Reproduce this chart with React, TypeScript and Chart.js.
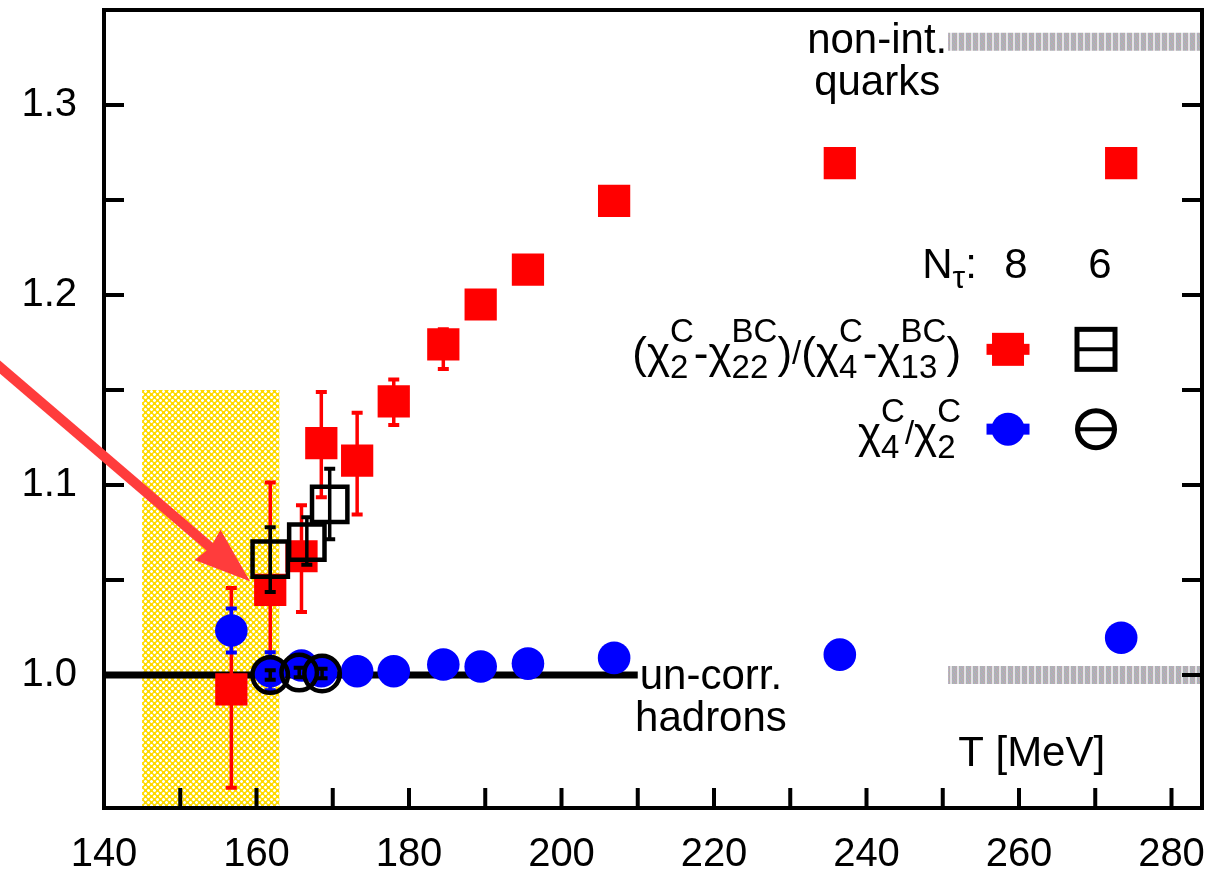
import { useEffect, useRef } from "react";
import { Chart, registerables } from "chart.js";

Chart.register(...registerables);

// Temperatures (MeV) of the N_tau = 8 ensembles
const T_NT8 = [156.7, 161.8, 165.9, 168.5, 173.2, 178.0, 184.5, 189.4, 195.6, 206.9, 236.5, 273.4];
// (chi2C - chi22BC)/(chi4C - chi13BC), N_tau = 8
const RATIO_NT8 = [0.9924, 1.0448, 1.0625, 1.122, 1.1128, 1.144, 1.174, 1.195, 1.2134, 1.2495, 1.2694, 1.2694];
const RATIO_NT8_LO = [0.9406, 0.9914, 1.0332, 1.0935, 1.0845, 1.1316, 1.161, 1.191, 1.2114, 1.2475, 1.2679, 1.2679];
const RATIO_NT8_HI = [1.0458, 1.1013, 1.0893, 1.149, 1.138, 1.1555, 1.182, 1.199, 1.2154, 1.2515, 1.2709, 1.2709];
// chi4C / chi2C, N_tau = 8
const C42_NT8 = [1.0234, 1.002, 1.005, 1.002, 1.002, 1.002, 1.0055, 1.0045, 1.006, 1.009, 1.0107, 1.0196];
const C42_NT8_LO = [1.0118, 0.992, 1.003, 1.0005, 1.0005, 1.0005, 1.004, 1.003, 1.0045, 1.0075, 1.009, 1.0175];
const C42_NT8_HI = [1.035, 1.012, 1.007, 1.0035, 1.0035, 1.0035, 1.007, 1.006, 1.0075, 1.0105, 1.0124, 1.0217];

// N_tau = 6 ensembles
const T_RATIO_NT6 = [161.8, 166.6, 169.6];
const RATIO_NT6 = [1.061, 1.0699, 1.0898];
const RATIO_NT6_LO = [1.0437, 1.058, 1.0715];
const RATIO_NT6_HI = [1.0778, 1.083, 1.1086];
const T_C42_NT6 = [161.8, 165.6, 168.6];
const C42_NT6 = [1.0, 1.0013, 1.0008];
const C42_NT6_LO = [0.9975, 0.9988, 0.9983];
const C42_NT6_HI = [1.0025, 1.0038, 1.0033];

// Reference levels: uncorrelated hadrons and non-interacting quarks
const HRG_T = [140, 210];
const HRG_LEVEL = [1.0, 1.0];
const FREE_T = [250.7, 284];
const FREE_RATIO = [4 / 3, 4 / 3];
const FREE_C42 = [1.0, 1.0];

// Crossover temperature band
const TC_BAND = [145, 163];
const TC_BAND_TOP = 1.15;

// Axis ticks
const X_LABELS = [140, 160, 180, 200, 220, 240, 260, 280];
const X_MARKS = [150, 160, 170, 180, 190, 200, 210, 220, 230, 240, 250, 260, 270, 280];
const Y_LABELS = [1.0, 1.1, 1.2, 1.3];
const Y_MARKS = [1.0, 1.05, 1.1, 1.15, 1.2, 1.25, 1.3];

// Pointer arrow (data coordinates)
const ARROW_FROM = { x: 125, y: 1.1667 };
const ARROW_TO = { x: 159.15, y: 1.0493 };

const FONT = "'Liberation Sans', Arial, Helvetica, sans-serif";

const pts = (xs: number[], ys: number[]) => xs.map((x, i) => ({ x, y: ys[i] }));

function makeYellowPattern(ctx: CanvasRenderingContext2D) {
  const c = document.createElement("canvas");
  c.width = 6;
  c.height = 6;
  const g = c.getContext("2d")!;
  g.fillStyle = "#ffd800";
  g.fillRect(0, 0, 6, 6);
  g.fillStyle = "#fff070";
  g.fillRect(0, 0, 3, 3);
  g.fillRect(3, 3, 3, 3);
  g.fillStyle = "#ffffff";
  g.fillRect(1, 0, 1, 3);
  g.fillRect(0, 1, 3, 1);
  g.fillRect(4, 3, 1, 3);
  g.fillRect(3, 4, 3, 1);
  return ctx.createPattern(c, "repeat")!;
}

function makeGrayPattern(ctx: CanvasRenderingContext2D) {
  const c = document.createElement("canvas");
  c.width = 7;
  c.height = 4;
  const g = c.getContext("2d")!;
  g.fillStyle = "#e4e2e6";
  g.fillRect(0, 0, 7, 4);
  const shades = ["#b9a7bd", "#a7bba9", "#a9aec9", "#c2a9ad", "#adb2ad"];
  for (let x = 0; x < 5; x++) {
    for (let y = 0; y < 4; y++) {
      g.fillStyle = shades[(x + 2 * y) % shades.length];
      g.fillRect(x, y, 1, 1);
    }
  }
  return ctx.createPattern(c, "repeat")!;
}

type Seg = { t: string; small?: boolean; dy?: number } | { sub: string; sup: string };

function drawRich(
  ctx: CanvasRenderingContext2D,
  segs: Seg[],
  xRight: number,
  baseline: number,
  main: number,
  small: number
) {
  const mainFont = `${main}px ${FONT}`;
  const smallFont = `${small}px ${FONT}`;
  const widthOf = (s: Seg) => {
    if ("sub" in s) {
      ctx.font = smallFont;
      return Math.max(ctx.measureText(s.sub).width, ctx.measureText(s.sup).width);
    }
    ctx.font = s.small ? smallFont : mainFont;
    return ctx.measureText(s.t).width;
  };
  const total = segs.reduce((a, s) => a + widthOf(s), 0);
  let x = xRight - total;
  ctx.textAlign = "left";
  ctx.textBaseline = "alphabetic";
  for (const s of segs) {
    const w = widthOf(s);
    if ("sub" in s) {
      ctx.font = smallFont;
      ctx.fillText(s.sub, x, baseline + 10);
      ctx.fillText(s.sup, x, baseline - 26);
    } else {
      ctx.font = s.small ? smallFont : mainFont;
      ctx.fillText(s.t, x, baseline + (s.dy ?? 0));
    }
    x += w;
  }
}

const LEGEND_RATIO: Seg[] = [
  { t: "(χ" },
  { sub: "2", sup: "C" },
  { t: "-χ" },
  { sub: "22", sup: "BC" },
  { t: ")" },
  { t: "/", small: true, dy: -4 },
  { t: "(χ" },
  { sub: "4", sup: "C" },
  { t: "-χ" },
  { sub: "13", sup: "BC" },
  { t: ")" },
];
const LEGEND_C42: Seg[] = [
  { t: "χ" },
  { sub: "4", sup: "C" },
  { t: "/", small: true, dy: -4 },
  { t: "χ" },
  { sub: "2", sup: "C" },
];

const decor = {
  id: "decor",
  beforeDatasetsDraw(chart: any) {
    const { ctx, chartArea, scales } = chart;
    const xs = scales.x;
    const ys = scales.y;
    const x0 = xs.getPixelForValue(TC_BAND[0]);
    const x1 = xs.getPixelForValue(TC_BAND[1]);
    const y0 = ys.getPixelForValue(TC_BAND_TOP);
    ctx.save();
    ctx.fillStyle = chart.$yellow;
    ctx.fillRect(x0, y0, x1 - x0, chartArea.bottom - y0);
    ctx.restore();
  },
  beforeDatasetDraw(chart: any, args: any) {
    const ds = chart.data.datasets[args.index];
    if (!ds.errLo) return;
    const { ctx, scales } = chart;
    const xs = scales.x;
    const ys = scales.y;
    ctx.save();
    ctx.strokeStyle = ds.errColor;
    ctx.lineCap = "butt";
    ds.data.forEach((p: any, i: number) => {
      const x = xs.getPixelForValue(p.x);
      const yl = ys.getPixelForValue(ds.errLo[i]);
      const yh = ys.getPixelForValue(ds.errHi[i]);
      ctx.lineWidth = 3.5;
      ctx.beginPath();
      ctx.moveTo(x, yl);
      ctx.lineTo(x, yh);
      ctx.stroke();
      ctx.lineWidth = 4;
      ctx.beginPath();
      ctx.moveTo(x - 5.5, yl);
      ctx.lineTo(x + 5.5, yl);
      ctx.moveTo(x - 5.5, yh);
      ctx.lineTo(x + 5.5, yh);
      ctx.stroke();
    });
    ctx.restore();
  },
  afterDatasetsDraw(chart: any) {
    const { ctx, chartArea: a, scales } = chart;
    const xs = scales.x;
    const ys = scales.y;
    const px = (v: number) => xs.getPixelForValue(v);
    const py = (v: number) => ys.getPixelForValue(v);
    ctx.save();

    // frame and inward ticks
    ctx.strokeStyle = "#000";
    ctx.lineWidth = 4;
    ctx.strokeRect(a.left, a.top, a.right - a.left, a.bottom - a.top);
    ctx.beginPath();
    for (const v of X_MARKS) {
      const x = px(v);
      ctx.moveTo(x, a.bottom);
      ctx.lineTo(x, a.bottom - 20);
    }
    for (const v of Y_MARKS) {
      const y = py(v);
      ctx.moveTo(a.left, y);
      ctx.lineTo(a.left + 20, y);
      ctx.moveTo(a.right, y);
      ctx.lineTo(a.right - 20, y);
    }
    ctx.stroke();

    // arrow
    const ax0 = px(ARROW_FROM.x);
    const ay0 = py(ARROW_FROM.y);
    const ax1 = px(ARROW_TO.x);
    const ay1 = py(ARROW_TO.y);
    const len = Math.hypot(ax1 - ax0, ay1 - ay0);
    const ux = (ax1 - ax0) / len;
    const uy = (ay1 - ay0) / len;
    const head = 56;
    const half = 20;
    const bx = ax1 - ux * head;
    const by = ay1 - uy * head;
    ctx.strokeStyle = "#ff3c3c";
    ctx.fillStyle = "#ff3c3c";
    ctx.lineWidth = 10;
    ctx.beginPath();
    ctx.moveTo(ax0, ay0);
    ctx.lineTo(bx + ux * 6, by + uy * 6);
    ctx.stroke();
    ctx.beginPath();
    ctx.moveTo(ax1, ay1);
    ctx.lineTo(bx - uy * half, by + ux * half);
    ctx.lineTo(bx + ux * 4, by + uy * 4);
    ctx.lineTo(bx + uy * half, by - ux * half);
    ctx.closePath();
    ctx.fill();

    // annotations
    ctx.fillStyle = "#000";
    ctx.font = `42px ${FONT}`;
    ctx.textBaseline = "alphabetic";
    ctx.textAlign = "center";
    ctx.fillText("non-int.", px(241.4), py(1.3273));
    ctx.fillText("quarks", px(241.4), py(1.3055));
    ctx.fillText("un-corr.", px(219.6), py(0.9924));
    ctx.fillText("hadrons", px(219.6), py(0.9703));
    ctx.textAlign = "right";
    ctx.fillText("T [MeV]", px(271.3), py(0.952));

    // legend header
    const hb = py(1.2092);
    ctx.textAlign = "left";
    let hx = px(247.3);
    ctx.fillText("N", hx, hb);
    hx += ctx.measureText("N").width;
    ctx.font = `32px ${FONT}`;
    ctx.fillText("τ", hx, hb + 10);
    hx += ctx.measureText("τ").width;
    ctx.font = `42px ${FONT}`;
    ctx.fillText(":", hx, hb);
    ctx.textAlign = "center";
    ctx.fillText("8", px(259.6), hb);
    ctx.fillText("6", px(270.6), hb);

    // legend labels
    drawRich(ctx, LEGEND_RATIO, px(252.4), py(1.1614), 44, 33);
    drawRich(ctx, LEGEND_C42, px(252.4), py(1.1194), 44, 33);

    // legend markers
    const c8 = px(258.56);
    const c6 = px(270.1);
    const r1 = py(1.1714);
    const r2 = py(1.1294);
    ctx.fillStyle = "#ff0000";
    ctx.fillRect(c8 - 16, r1 - 16.5, 32, 33);
    ctx.fillRect(c8 - 21.5, r1 - 5.5, 43, 11);
    ctx.fillStyle = "#0000ff";
    ctx.beginPath();
    ctx.arc(c8, r2, 16.5, 0, Math.PI * 2);
    ctx.fill();
    ctx.fillRect(c8 - 21.5, r2 - 5.5, 43, 11);
    ctx.strokeStyle = "#000";
    ctx.lineWidth = 5;
    ctx.strokeRect(c6 - 19, r1 - 20, 38, 40);
    ctx.beginPath();
    ctx.arc(c6, r2, 18.5, 0, Math.PI * 2);
    ctx.stroke();
    ctx.lineWidth = 4;
    ctx.beginPath();
    ctx.moveTo(c6 - 19, r1);
    ctx.lineTo(c6 + 19, r1);
    ctx.moveTo(c6 - 19, r2);
    ctx.lineTo(c6 + 19, r2);
    ctx.stroke();

    ctx.restore();
  },
};

export default function App() {
  const ref = useRef<HTMLCanvasElement>(null);

  useEffect(() => {
    const canvas = ref.current!;
    const ctx = canvas.getContext("2d")!;
    const yellow = makeYellowPattern(ctx);
    const gray = makeGrayPattern(ctx);
    const tickFont = { family: FONT, size: 40 };

    const chart: any = new Chart(canvas, {
      type: "scatter",
      data: {
        datasets: [
          {
            type: "line",
            data: pts(FREE_T, FREE_RATIO),
            borderColor: gray,
            borderWidth: 18,
            pointRadius: 0,
            order: 9,
          },
          {
            type: "line",
            data: pts(FREE_T, FREE_C42),
            borderColor: gray,
            borderWidth: 18,
            pointRadius: 0,
            order: 9,
          },
          {
            type: "line",
            data: pts(HRG_T, HRG_LEVEL),
            borderColor: "#000",
            borderWidth: 7,
            pointRadius: 0,
            order: 8,
          },
          {
            data: pts(T_NT8, RATIO_NT8),
            pointStyle: "rect",
            pointRadius: 22.8,
            pointBackgroundColor: "#ff0000",
            pointBorderWidth: 0,
            order: 5,
            errLo: RATIO_NT8_LO,
            errHi: RATIO_NT8_HI,
            errColor: "#ff0000",
          },
          {
            data: pts(T_NT8, C42_NT8),
            pointStyle: "circle",
            pointRadius: 16.3,
            pointBackgroundColor: "#0000ff",
            pointBorderWidth: 0,
            order: 4,
            errLo: C42_NT8_LO,
            errHi: C42_NT8_HI,
            errColor: "#0000ff",
          },
          {
            data: pts(T_RATIO_NT6, RATIO_NT6),
            pointStyle: "rect",
            pointRadius: 25,
            pointBackgroundColor: "rgba(0,0,0,0)",
            pointBorderColor: "#000",
            pointBorderWidth: 4.5,
            order: 3,
            errLo: RATIO_NT6_LO,
            errHi: RATIO_NT6_HI,
            errColor: "#000",
          },
          {
            data: pts(T_C42_NT6, C42_NT6),
            pointStyle: "circle",
            pointRadius: 17.75,
            pointBackgroundColor: "rgba(0,0,0,0)",
            pointBorderColor: "#000",
            pointBorderWidth: 4.5,
            order: 2,
            errLo: C42_NT6_LO,
            errHi: C42_NT6_HI,
            errColor: "#000",
          },
        ] as any,
      },
      options: {
        responsive: false,
        animation: false,
        devicePixelRatio: 1,
        events: [],
        layout: { autoPadding: false, padding: { top: 10, right: 7, left: 0, bottom: 0 } },
        plugins: { legend: { display: false }, tooltip: { enabled: false } },
        scales: {
          x: {
            type: "linear",
            min: 140,
            max: 284,
            border: { display: false },
            grid: { display: false, drawTicks: false },
            ticks: {
              font: tickFont,
              color: "#000",
              padding: 23,
              maxRotation: 0,
              autoSkip: false,
              callback: (v: any) => String(v),
            },
            afterBuildTicks: (s: any) => {
              s.ticks = X_LABELS.map((value) => ({ value }));
            },
            afterFit: (s: any) => {
              s.height = 74;
              s.paddingLeft = 0;
              s.paddingRight = 0;
            },
          },
          y: {
            type: "linear",
            min: 0.93,
            max: 1.35,
            border: { display: false },
            grid: { display: false, drawTicks: false },
            ticks: {
              font: tickFont,
              color: "#000",
              padding: 27,
              autoSkip: false,
              callback: (v: any) => Number(v).toFixed(1),
            },
            afterBuildTicks: (s: any) => {
              s.ticks = Y_LABELS.map((value) => ({ value }));
            },
            afterFit: (s: any) => {
              s.width = 104;
              s.paddingTop = 0;
              s.paddingBottom = 0;
            },
          },
        },
      } as any,
      plugins: [decor],
    });
    chart.$yellow = yellow;
    chart.draw();

    return () => chart.destroy();
  }, []);

  return (
    <div style={{ position: "absolute", left: 0, top: 0, width: 1209, height: 882, background: "#fff" }}>
      <canvas ref={ref} width={1209} height={882} style={{ display: "block", width: 1209, height: 882 }} />
    </div>
  );
}
